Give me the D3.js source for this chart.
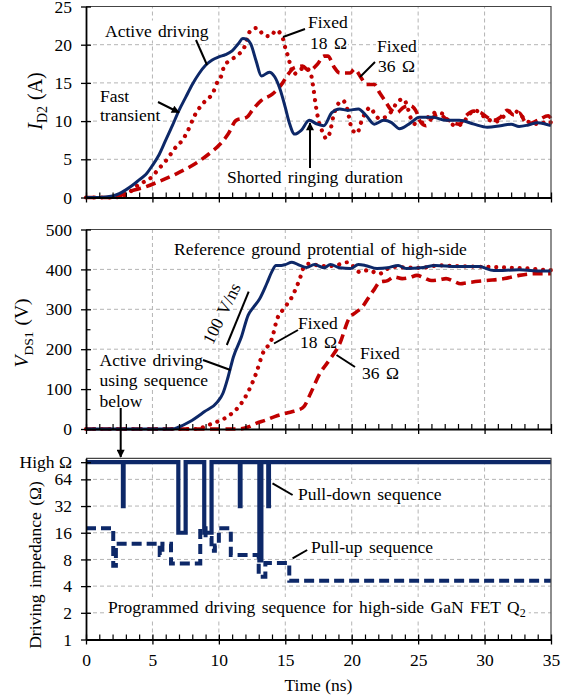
<!DOCTYPE html>
<html><head><meta charset="utf-8">
<script src="https://cdn.jsdelivr.net/npm/d3@7"></script>
<style>
body{margin:0;background:#fff}
text{font-family:"Liberation Serif","Times New Roman",serif;fill:#000}
</style>
</head><body>
<svg id="c" width="572" height="700"></svg>
<script>
// ---------- DATA ----------
// Top panel: I_D2 (A) vs time (ns)
const tActI = [0,1,2,2.5,3,3.5,4,4.5,5,5.5,6,6.5,7,7.5,8,8.5,9,9.5,10,10.5,11,11.5,11.8,12.1,12.4,12.8,13.2,13.8,14.2,14.6,15.0,15.3,15.7,16.2,16.8,17.4,17.9,18.5,19.1,19.7,20.5,21.1,21.7,22.4,23,23.6,24.3,25.1,26.1,27.1,28.1,29.2,30.2,31.2,32,32.6,33.3,34,35];
const iAct  = [0,0,0.2,0.5,1,1.6,2.3,3.0,4.2,5.6,7.5,9.4,11.4,13.1,14.8,16.2,17.3,18.0,18.4,18.7,19.2,20.2,20.8,20.7,20.1,17.9,15.9,16.4,15.8,14.2,11.8,9.8,8.3,8.8,10.1,9.6,9.4,11.1,11.6,11.4,11.6,10.7,9.6,10.1,9.8,9.0,9.6,10.5,10.5,10.1,10.1,9.6,9.2,9.4,9.6,9.3,9.5,9.8,9.4];

const t18I = [0,2,3,3.66,4.41,4.9,5.4,6.1,6.67,7.25,7.6,8.2,9,9.56,9.8,10.2,10.4,10.8,11.4,11.9,12.4,12.9,13.4,13.9,14.3,14.8,15.0,15.2,15.4,15.6,16.0,16.5,16.9,17.1,17.3,17.5,17.8,18.1,18.4,18.6,18.9,19.3,19.6,19.8,20.0,20.4,20.7,21.1,21.4,21.7,22.1,22.6,23.0,23.4,23.9,24.2,24.4,24.8,25.3,25.8,26.3,26.8,27.3,27.8,28.3,28.8,29.3,29.8,30.3,30.8,31.3,31.8,32.2,32.7,33.2,33.7,34.2,34.7,35];
const i18  = [0,0,0.3,1.3,2.1,2.6,3.6,5,6.4,7.5,8.5,10.8,12.7,13.7,14.8,16,17.2,17.9,18.6,19.6,21.9,22.2,21.2,21.1,21.9,20.9,19.6,18.5,17.2,16.1,16.6,17.0,16.3,14.5,12.0,10.1,8.6,7.7,8.8,10.5,12.0,12.7,12.0,10.5,9.0,8.4,9.8,11.3,11.8,11.0,10.3,10.6,11.3,12.4,12.9,11.8,10.6,9.6,9.8,10.6,11.1,11.0,10.0,9.4,9.6,10.8,11.4,10.8,10.2,9.9,10.4,11.2,11.4,10.8,10.0,9.7,9.6,10.0,9.8];

const t36I = [0,2,2.5,3.3,4.5,5.5,6.8,7.8,9.1,10.1,10.7,11.3,12.1,12.6,13.2,14,14.8,15.2,15.7,16.3,16.8,17.4,17.9,18.2,18.7,19.1,19.9,20.2,20.7,21.1,21.7,22.1,22.6,22.9,23.4,23.9,24.4,24.9,25.1,25.6,26,26.6,27.1,28.1,28.6,29.2,29.7,30.2,30.7,31.2,31.7,32.2,32.6,33.2,34,34.8,35];
const i36  = [0,0,0.2,0.8,1.4,2.1,3.1,4,5.5,7,8.3,10.1,10.5,11.6,12.7,13.5,15,16.1,17,17.2,16.6,17.4,18.5,18.5,17,16.3,16.3,16.8,15.7,14.8,14.8,13.7,12.4,11.6,11.1,11.8,12,11.1,10.1,9.4,10.3,10.9,10.3,9.6,10.7,11.3,11.1,10.5,10.1,10.5,11.4,10.8,11.1,9.6,10.1,10.7,10.3];

// Middle panel: V_DS1 (V)
const tActV = [0,6.5,7,7.8,8.9,9.9,10.3,10.7,11.1,11.7,12.2,12.6,13.05,13.6,14.0,14.3,14.7,15,15.5,16.1,16.6,17.2,17.9,18.4,19.1,19.9,20.5,21,21.9,22.7,23.5,24.1,25.2,26.3,27.9,29.6,30.7,32.6,34.3,35];
const vAct  = [0,0,5,18,43,68,89,131,181,231,285,305,325,364,395,410,410,412,418,410,405,412,404,412,404,402,412,410,402,404,410,402,404,410,407,407,397,399,396,396];

const t18V = [0,8.5,8.9,9.7,10.4,10.9,11.5,12.2,12.8,13.3,14,14.4,14.8,15.5,15.8,16.1,16.4,16.8,17.5,18.2,18.8,19.7,20.2,20.6,21.2,22.1,22.6,23.2,24,25.2,26.6,28,29.3,30.5,32.1,33.5,34.8,35];
const v18  = [0,0,6,16,26,37,56,93,139,189,227,277,298,331,352,377,406,414,410,408,410,418,405,393,398,389,400,406,405,404,410,408,407,406,404,402,398,398];

const t36V = [0,11.5,12.2,12.8,13.5,14.2,14.9,15.5,16,16.4,16.9,17.6,18.3,19.1,19.8,20.3,20.8,21.3,21.7,22.1,22.7,23.2,23.8,24.4,24.9,25.5,26,26.6,27.1,27.7,28.2,28.6,29,30.1,31.5,32.6,33.7,35];
const v36  = [0,0,5,14,22,31,38,43,48,56,89,139,172,214,277,292,306,331,350,368,372,381,377,380,385,378,372,374,377,370,364,366,368,372,377,385,389,389];

// Bottom panel: programmed driving impedance (Ω), "High Ω" drawn at 100
const HIGH = 100;
const tPullDown = [0,2.78,2.83,6.95,7.5,8.9,9.45,11.58,11.63,13.05,13.2,13.72,13.77,35];
const zPullDown = [HIGH,32,HIGH,16,HIGH,16,HIGH,32,HIGH,7.8,HIGH,32,HIGH,HIGH];
const tPullUp = [0,2.05,2.25,5.55,5.75,6.4,8.6,9.0,9.45,9.7,10.0,10.9,13.0,13.5,15.3,35];
const zPullUp = [18,6.8,12,9,12,7.2,18,14,10,11.5,18,9,5.1,7.3,4.6,4.6];

const xTicks = [0,5,10,15,20,25,30,35];
const yTicksI = [0,5,10,15,20,25];
const yTicksV = [0,100,200,300,400,500];
const yTicksZ = [1,2,4,8,16,32,64,HIGH];
const zTickLabel = v => v===HIGH ? "High Ω" : String(v);

// ---------- SCALES ----------
const NAVY = "#0d2868", RED = "#c00000";
const svg = d3.select("#c");
const x = d3.scaleLinear().domain([0,35]).range([86,551]);
const yTop = d3.scaleLinear().domain([0,25]).range([197.5,6.5]);
const yMid = d3.scaleLinear().domain([0,500]).range([429,229.5]);
const yBot = d3.scaleLog().base(2).domain([1,110.6]).range([639.5,458.3]);

const gGrid = svg.append("g"), gBg = svg.append("g"), gCurve = svg.append("g"), gAxis = svg.append("g"), gText = svg.append("g");
const zip = (a,b) => a.map((v,i)=>[v,b[i]]);

function panel(y, yTicks, minorY, labelFmt, showX){
  const [y0,y1] = y.range();
  yTicks.forEach(v=>{ const p=y(v); if(p<y0-1 && v!==HIGH && p>y1+1)
    gGrid.append("line").attr("x1",x(0)).attr("x2",x(35)).attr("y1",p).attr("y2",p)
      .attr("stroke","#b4b4b4").attr("stroke-dasharray","4,3").attr("stroke-width",1);});
  xTicks.slice(1,-1).forEach(t=> gGrid.append("line").attr("x1",x(t)).attr("x2",x(t)).attr("y1",y0).attr("y2",y1)
      .attr("stroke","#b4b4b4").attr("stroke-dasharray","4,3").attr("stroke-width",1));
  gAxis.append("path").attr("d",`M${x(0)},${y1}H${x(35)}V${y0}`).attr("fill","none").attr("stroke","#444").attr("stroke-width",1.2);
  const ay = gAxis.append("g").attr("transform",`translate(${x(0)},0)`)
    .call(d3.axisLeft(y).tickValues(yTicks).tickSize(5).tickSizeOuter(0).tickPadding(9).tickFormat(labelFmt));
  ay.selectAll(".tick line").attr("x1",5).attr("stroke-width",1.3);
  if(minorY) gAxis.append("g").attr("transform",`translate(${x(0)},0)`)
    .call(d3.axisLeft(y).tickValues(minorY).tickSize(-4.5).tickSizeOuter(0).tickFormat(""))
    .call(g=>g.select(".domain").remove()).selectAll("line").attr("stroke-width",1.2);
  const ax = gAxis.append("g").attr("transform",`translate(0,${y0})`)
    .call(d3.axisBottom(x).tickValues(xTicks).tickSize(5).tickSizeOuter(0).tickPadding(9).tickFormat(showX? d3.format("d") : ""));
  ax.selectAll(".tick line").attr("y1",-5).attr("stroke-width",1.3);
  gAxis.append("g").attr("transform",`translate(0,${y0})`)
    .call(d3.axisBottom(x).tickValues(d3.range(1,35).filter(t=>t%5)).tickSize(-5).tickSizeOuter(0).tickFormat(""))
    .call(g=>g.select(".domain").remove()).selectAll("line").attr("stroke-width",1.2);
  [ay,ax].forEach(a=>{a.select(".domain").attr("stroke-width",1.8);
    a.selectAll("text").attr("font-size",17.5).attr("font-family",'"Liberation Serif",serif').attr("fill","#000");});
}
panel(yTop, yTicksI, null, d3.format("d"), false);
panel(yMid, yTicksV, [50,150,250,350,450], d3.format("d"), false);
panel(yBot, yTicksZ, null, zTickLabel, true);

// ---------- CURVES ----------
function curve(t,v,y,style,curveType){
  const line = d3.line().x(d=>x(d[0])).y(d=>y(d[1])).curve(curveType||d3.curveMonotoneX);
  const p = gCurve.append("path").attr("d",line(zip(t,v))).attr("fill","none");
  Object.entries(style).forEach(([k,val])=>p.attr(k,val));
}
const sAct = {stroke:NAVY,"stroke-width":3,"stroke-linejoin":"round"};
const s18 = {stroke:RED,"stroke-width":4.2,"stroke-dasharray":"0.01 7.8","stroke-linecap":"round"};
const s36 = {stroke:RED,"stroke-width":3.6,"stroke-dasharray":"10 5.5"};
curve(t36I,i36,yTop,s36); curve(t18I,i18,yTop,s18); curve(tActI,iAct,yTop,sAct);
curve(t36V,v36,yMid,s36); curve(t18V,v18,yMid,s18); curve(tActV,vAct,yMid,sAct);
curve(tPullUp,zPullUp,yBot,{stroke:NAVY,"stroke-width":4,"stroke-dasharray":"10 5"},d3.curveStepAfter);
curve(tPullDown,zPullDown,yBot,{stroke:NAVY,"stroke-width":4.2,"stroke-linejoin":"miter"},d3.curveStepAfter);

// ---------- ANNOTATIONS ----------
function label(str,xp,yp,opts={}){
  const t = gText.append("text").attr("x",xp).attr("y",yp).attr("font-size",opts.size||17.5)
    .attr("word-spacing",opts.ws!=null?opts.ws:2).text(str);
  if(opts.bg!==false && str){ const b=t.node().getBBox();
    gBg.append("rect").attr("x",b.x-1).attr("y",b.y).attr("width",b.width+2).attr("height",b.height).attr("fill","#fff");}
  return t;
}
label("Active driving",105,36.5);
label("Fast",100,101.5); label("transient",100,120.5);
label("Fixed",308,28); label("18 Ω",310,48.5);
label("Fixed",377,51.5); label("36 Ω",378,71.5);
label("Shorted ringing duration",227,183);
label("Reference ground protential of high-side",174,255);
label("Fixed",298,329); label("18 Ω",300,348);
label("Fixed",360,359); label("36 Ω",362,379);
label("Active driving",99.5,366); label("using sequence",99.5,386); label("below",99.5,407);
gText.append("text").attr("font-size",17.5).attr("text-anchor","middle").attr("word-spacing",2)
  .attr("transform","translate(227,316) rotate(-64)").text("100 V/ns");
label("Pull-down sequence",298,500);
label("Pull-up sequence",311,552.5);
const prog = label("",108,613);
prog.text("Programmed driving sequence for high-side  GaN FET Q");
prog.append("tspan").attr("font-size",12).attr("dy",4).text("2");
{ const b=prog.node().getBBox(); gBg.append("rect").attr("x",b.x-1).attr("y",b.y).attr("width",b.width+4).attr("height",b.height).attr("fill","#fff"); }

const defs = svg.append("defs");
defs.append("marker").attr("id","ah").attr("viewBox","0 0 10 10").attr("refX",9).attr("refY",5)
  .attr("markerWidth",9).attr("markerHeight",8).attr("markerUnits","userSpaceOnUse").attr("orient","auto")
  .append("path").attr("d","M0,0L10,5L0,10Z").attr("fill","#000");
function seg(a,b,c,d,arrow){
  const l = gText.append("line").attr("x1",a).attr("y1",b).attr("x2",c).attr("y2",d).attr("stroke","#000").attr("stroke-width",2);
  if(arrow) l.attr("marker-end","url(#ah)");
}
seg(196,40,207,65);
seg(158,102,179,112.5,true);
seg(283,37,305,29);
seg(360,77,375,62);
seg(310,168,310,123,true);
seg(226.8,345,248.7,291.7);
seg(274,343.5,298,330);
seg(336.5,355,355,367);
seg(203,360,230.5,370);
seg(120.7,408,120.7,457,true);
seg(272.5,483.3,292.6,495);
seg(292.6,558.3,307.2,550);

const tI = gText.append("text").attr("font-size",20).attr("text-anchor","middle").attr("transform","translate(42,101) rotate(-90)");
tI.append("tspan").attr("font-style","italic").text("I");
tI.append("tspan").attr("font-size",14).attr("dy",5).text("D2");
tI.append("tspan").attr("dy",-5).attr("dx",6).text("(A)");
const tV = gText.append("text").attr("font-size",19.5).attr("text-anchor","middle").attr("transform","translate(28,333) rotate(-90)");
tV.append("tspan").attr("font-style","italic").text("V");
tV.append("tspan").attr("font-size",13.5).attr("dy",5).text("DS1");
tV.append("tspan").attr("dy",-5).attr("dx",6).text("(V)");
gText.append("text").attr("font-size",17.5).attr("text-anchor","middle").attr("word-spacing",2)
  .attr("transform","translate(41,565) rotate(-90)").text("Driving impedance (Ω)");
gText.append("text").attr("font-size",17.5).attr("text-anchor","middle").attr("x",318.5).attr("y",691).text("Time (ns)");
</script>
</body></html>
